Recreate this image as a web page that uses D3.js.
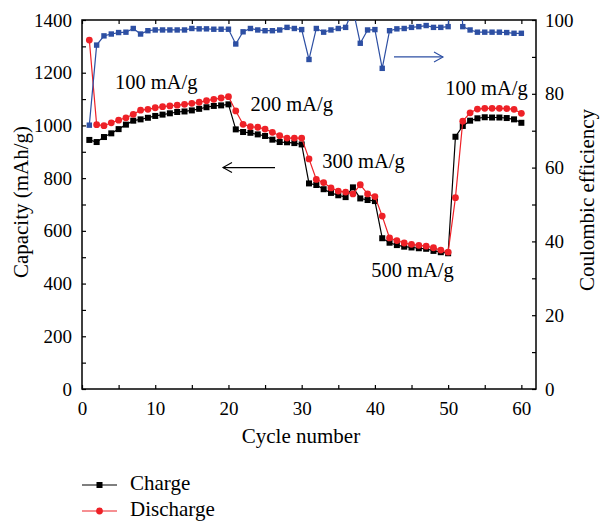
<!DOCTYPE html>
<html lang="en">
<head>
    <meta charset="UTF-8">
    <title>Capacity and coulombic efficiency</title>
    <script src="https://cdn.jsdelivr.net/npm/d3@7"></script>
    <style>
        body { margin: 0; background: #fff; }
        svg { display: block; font-family: "Liberation Serif", "Times New Roman", "DejaVu Serif", serif; }
        .tick line { stroke: #000; stroke-width: 1.2; }
    </style>
</head>
<body>
    <div id="chart"></div>

    <script>
        // cycle numbers
        const cycles = [1, 2, 3, 4, 5, 6, 7, 8, 9, 10, 11, 12, 13, 14, 15, 16, 17, 18, 19, 20,
            21, 22, 23, 24, 25, 26, 27, 28, 29, 30, 31, 32, 33, 34, 35, 36, 37, 38, 39, 40,
            41, 42, 43, 44, 45, 46, 47, 48, 49, 50, 51, 52, 53, 54, 55, 56, 57, 58, 59, 60];

        // charge capacity (mAh/g)
        const charge = [945, 937, 956, 970, 986, 1003, 1018, 1023, 1029, 1036, 1041, 1046, 1051, 1053, 1057, 1063, 1069, 1074, 1076, 1080,
            985, 975, 972, 966, 960, 946, 937, 936, 933, 928, 780, 774, 758, 744, 735, 728, 765, 723, 717, 713,
            572, 555, 546, 540, 537, 534, 532, 524, 519, 515, 957, 998, 1018, 1027, 1031, 1030, 1030, 1028, 1023, 1010];

        // discharge capacity (mAh/g)
        const discharge = [1324, 1003, 999, 1010, 1020, 1029, 1042, 1058, 1061, 1067, 1071, 1074, 1077, 1080, 1084, 1088, 1094, 1099, 1104, 1109,
            1055, 1004, 995, 993, 986, 974, 961, 952, 952, 952, 873, 795, 783, 763, 751, 747, 740, 775, 740, 730,
            656, 573, 563, 554, 549, 545, 542, 536, 527, 519, 726, 1016, 1048, 1062, 1065, 1065, 1065, 1064, 1061, 1046];

        // coulombic efficiency (%)
        const efficiency = [71.5, 93.2, 95.7, 96.2, 96.6, 96.7, 97.7, 96.2, 97.1, 97.3, 97.3, 97.3, 97.3, 97.3, 97.7, 97.6, 97.6, 97.5, 97.5, 97.5,
            93.5, 96.8, 97.7, 97.3, 97.1, 97.1, 97.3, 98.0, 97.7, 97.4, 89.3, 97.7, 96.7, 97.3, 97.7, 98.0, 103, 93.7, 97.3, 97.4,
            86.9, 97.1, 97.6, 97.7, 98.0, 98.2, 98.5, 98.0, 98.0, 98.2, 132, 98.2, 97.3, 96.7, 96.7, 96.7, 96.7, 96.6, 96.4, 96.4];

        // tick labels
        const xTicks = [0, 10, 20, 30, 40, 50, 60];
        const yLeftTicks = [0, 200, 400, 600, 800, 1000, 1200, 1400];
        const yRightTicks = [0, 20, 40, 60, 80, 100];

        // current density labels
        const rateLabels = [
            { text: "100 mA/g", cycle: 4.5, cap: 1140 },
            { text: "200 mA/g", cycle: 23, cap: 1055 },
            { text: "300 mA/g", cycle: 32.8, cap: 838 },
            { text: "500 mA/g", cycle: 39.5, cap: 425 },
            { text: "100 mA/g", cycle: 49.6, cap: 1116 }
        ];

        const width = 600, height = 521;
        const margin = { top: 20, right: 64, bottom: 132, left: 82 };

        const x = d3.scaleLinear().domain([0, 62]).range([margin.left, width - margin.right]);
        const yL = d3.scaleLinear().domain([0, 1400]).range([height - margin.bottom, margin.top]);
        const yR = d3.scaleLinear().domain([0, 100]).range([height - margin.bottom, margin.top]);

        const svg = d3.select("#chart")
            .append("svg")
            .attr("width", width)
            .attr("height", height);

        svg.append("defs").append("clipPath")
            .attr("id", "plotClip")
            .append("rect")
            .attr("x", margin.left)
            .attr("y", margin.top)
            .attr("width", width - margin.left - margin.right)
            .attr("height", height - margin.top - margin.bottom);

        // axes (ticks pointing inside)
        const fontSize = 19;
        const bottomAxis = svg.append("g")
            .attr("transform", `translate(0,${height - margin.bottom})`)
            .call(d3.axisBottom(x)
                .tickValues(d3.range(0, 61, 5))
                .tickSize(-4)
                .tickPadding(13)
                .tickFormat(d => xTicks.includes(d) ? d : ""));

        const topAxis = svg.append("g")
            .attr("transform", `translate(0,${margin.top})`)
            .call(d3.axisTop(x)
                .tickValues(d3.range(0, 61, 5))
                .tickSize(-4)
                .tickFormat(""));

        const leftAxis = svg.append("g")
            .attr("transform", `translate(${margin.left},0)`)
            .call(d3.axisLeft(yL)
                .tickValues(d3.range(0, 1401, 100))
                .tickSize(-4)
                .tickPadding(10)
                .tickFormat(d => yLeftTicks.includes(d) ? d : ""));

        const rightAxis = svg.append("g")
            .attr("transform", `translate(${width - margin.right},0)`)
            .call(d3.axisRight(yR)
                .tickValues(d3.range(0, 101, 10))
                .tickSize(-4)
                .tickPadding(9)
                .tickFormat(d => yRightTicks.includes(d) ? d : ""));

        [bottomAxis, topAxis, leftAxis, rightAxis].forEach(g => {
            g.attr("font-family", null);
            g.select(".domain").remove();
            g.selectAll("text")
                .attr("font-size", fontSize)
                .attr("fill", "#000");
        });

        // frame
        svg.append("rect")
            .attr("x", margin.left)
            .attr("y", margin.top)
            .attr("width", width - margin.left - margin.right)
            .attr("height", height - margin.top - margin.bottom)
            .attr("fill", "none")
            .attr("stroke", "#000")
            .attr("stroke-width", 1.5);

        // axis titles
        svg.append("text")
            .attr("x", (margin.left + width - margin.right) / 2 - 8)
            .attr("y", 443)
            .attr("text-anchor", "middle")
            .attr("font-size", 21)
            .text("Cycle number");

        svg.append("text")
            .attr("transform", `translate(28,${202}) rotate(-90)`)
            .attr("text-anchor", "middle")
            .attr("font-size", 21)
            .text("Capacity (mAh/g)");

        svg.append("text")
            .attr("transform", `translate(594,${200}) rotate(-90)`)
            .attr("text-anchor", "middle")
            .attr("font-size", 21)
            .text("Coulombic efficiency");

        // series
        const plot = svg.append("g").attr("clip-path", "url(#plotClip)");

        const chargeData = cycles.map((c, i) => ({ c, v: charge[i] }));
        const dischargeData = cycles.map((c, i) => ({ c, v: discharge[i] }));
        const effData = cycles.map((c, i) => ({ c, v: efficiency[i] }));

        const lineL = d3.line().x(d => x(d.c)).y(d => yL(d.v));
        const lineR = d3.line().x(d => x(d.c)).y(d => yR(d.v));

        const black = "#000", red = "#ee2127", blue = "#2d4fa3";

        plot.append("path")
            .datum(chargeData)
            .attr("d", lineL)
            .attr("fill", "none")
            .attr("stroke", black)
            .attr("stroke-width", 1.2);
        plot.append("g")
            .selectAll("rect")
            .data(chargeData)
            .join("rect")
            .attr("x", d => x(d.c) - 3)
            .attr("y", d => yL(d.v) - 3)
            .attr("width", 6)
            .attr("height", 6)
            .attr("fill", black);

        plot.append("path")
            .datum(dischargeData)
            .attr("d", lineL)
            .attr("fill", "none")
            .attr("stroke", red)
            .attr("stroke-width", 1.2);
        plot.append("g")
            .selectAll("circle")
            .data(dischargeData)
            .join("circle")
            .attr("cx", d => x(d.c))
            .attr("cy", d => yL(d.v))
            .attr("r", 3.4)
            .attr("fill", red);

        plot.append("path")
            .datum(effData)
            .attr("d", lineR)
            .attr("fill", "none")
            .attr("stroke", blue)
            .attr("stroke-width", 1.2);
        plot.append("g")
            .selectAll("rect")
            .data(effData)
            .join("rect")
            .attr("x", d => x(d.c) - 2.7)
            .attr("y", d => yR(d.v) - 2.7)
            .attr("width", 5.4)
            .attr("height", 5.4)
            .attr("fill", blue);

        // current density labels
        svg.append("g")
            .selectAll("text")
            .data(rateLabels)
            .join("text")
            .attr("x", d => x(d.cycle))
            .attr("y", d => yL(d.cap))
            .attr("font-size", 20.5)
            .text(d => d.text);

        // arrows
        function arrow(x1, x2, y, color) {
            const dir = x2 > x1 ? -1 : 1;
            const g = svg.append("g")
                .attr("stroke", color)
                .attr("stroke-width", 1.1)
                .attr("fill", "none");
            g.append("line")
                .attr("x1", x1).attr("x2", x2)
                .attr("y1", y).attr("y2", y);
            g.append("polyline")
                .attr("points", `${x2 + dir * 9},${y - 5} ${x2},${y} ${x2 + dir * 9},${y + 5}`);
        }
        arrow(275, 223, yL(840), black);
        arrow(394, 443, yR(90), blue);

        // legend
        const legend = svg.append("g");
        const legendItems = [
            { name: "Charge", color: black, shape: "square", y: 485 },
            { name: "Discharge", color: red, shape: "circle", y: 511 }
        ];
        legendItems.forEach(item => {
            legend.append("line")
                .attr("x1", 82).attr("x2", 117)
                .attr("y1", item.y).attr("y2", item.y)
                .attr("stroke", item.color)
                .attr("stroke-width", 1.2);
            if (item.shape === "square") {
                legend.append("rect")
                    .attr("x", 96.5).attr("y", item.y - 3)
                    .attr("width", 6).attr("height", 6)
                    .attr("fill", item.color);
            } else {
                legend.append("circle")
                    .attr("cx", 99.5).attr("cy", item.y)
                    .attr("r", 3.4)
                    .attr("fill", item.color);
            }
            legend.append("text")
                .attr("x", 130)
                .attr("y", item.y + 5)
                .attr("font-size", 21)
                .text(item.name);
        });
    </script>
</body>
</html>
